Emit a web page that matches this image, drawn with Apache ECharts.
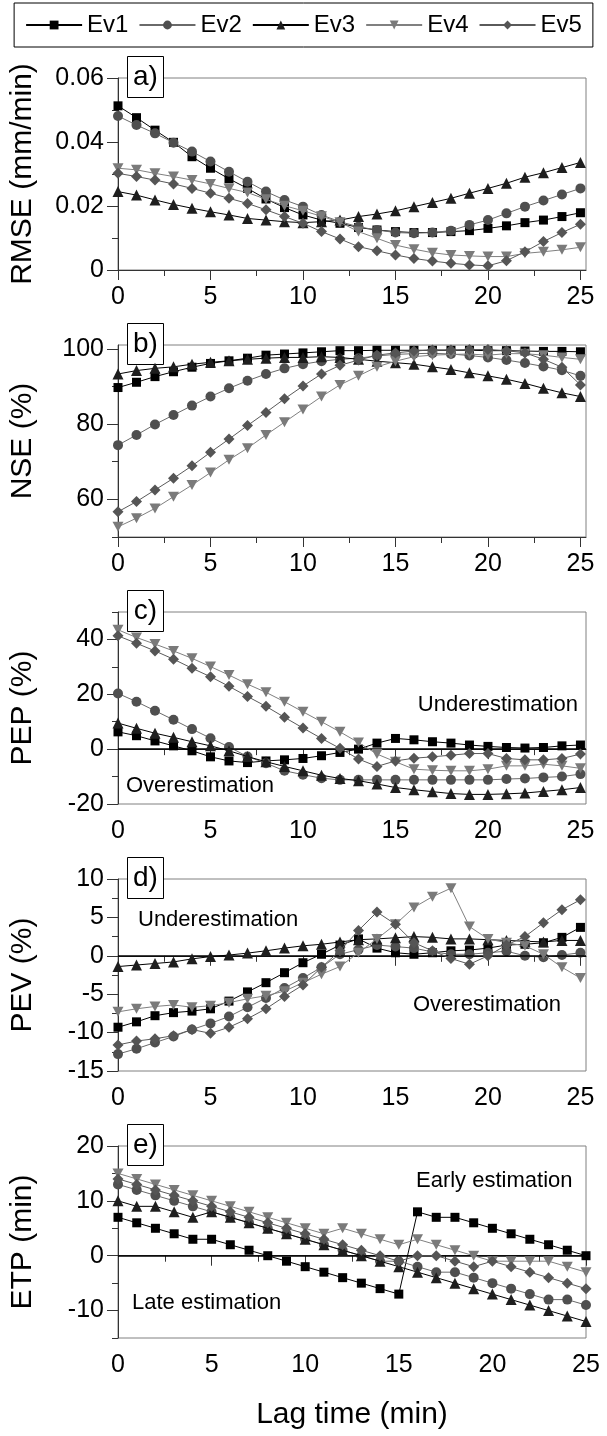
<!DOCTYPE html>
<html>
<head>
<meta charset="utf-8">
<script src="https://cdn.jsdelivr.net/npm/echarts@6/dist/echarts.min.js"></script>
<style>
html, body { margin: 0; padding: 0; background: #fff; }
#chart { width: 607px; height: 1436px; }
</style>
</head>
<body>
<div id="chart"></div>
<script>
// lag times (min), shared by every panel
var lags = [0, 1, 2, 3, 4, 5, 6, 7, 8, 9, 10, 11, 12, 13, 14, 15, 16, 17, 18, 19, 20, 21, 22, 23, 24, 25];
var names = ['Ev1', 'Ev2', 'Ev3', 'Ev4', 'Ev5'];

// a) RMSE (mm/min)
var rmse_ev1 = [0.0513, 0.0476, 0.0437, 0.0399, 0.0354, 0.0318, 0.0285, 0.0255, 0.0222, 0.0195, 0.0172, 0.0156, 0.0146, 0.0133, 0.0125, 0.012, 0.0117, 0.0117, 0.012, 0.0123, 0.013, 0.0138, 0.0148, 0.0156, 0.0167, 0.0179];
var rmse_ev2 = [0.0481, 0.0453, 0.0427, 0.0398, 0.037, 0.0339, 0.0307, 0.0276, 0.0245, 0.0219, 0.0198, 0.0172, 0.0151, 0.0135, 0.0125, 0.0117, 0.0115, 0.0117, 0.0123, 0.0141, 0.0156, 0.0177, 0.0198, 0.0217, 0.0236, 0.0255];
var rmse_ev3 = [0.0245, 0.0234, 0.0219, 0.0205, 0.0193, 0.0182, 0.0172, 0.0161, 0.0156, 0.0151, 0.0148, 0.0151, 0.0156, 0.0167, 0.0175, 0.0185, 0.0198, 0.0211, 0.0224, 0.024, 0.0255, 0.0271, 0.029, 0.0304, 0.032, 0.0336];
var rmse_ev4 = [0.0318, 0.0313, 0.0302, 0.0292, 0.0281, 0.0269, 0.0255, 0.0242, 0.0221, 0.0201, 0.0185, 0.0168, 0.0149, 0.012, 0.0099, 0.0078, 0.0065, 0.0054, 0.0047, 0.0044, 0.0042, 0.0042, 0.0052, 0.0057, 0.0063, 0.0071];
var rmse_ev5 = [0.0302, 0.0292, 0.0281, 0.0269, 0.0255, 0.024, 0.0224, 0.0208, 0.0188, 0.0167, 0.0146, 0.012, 0.0097, 0.0073, 0.006, 0.0047, 0.0036, 0.0028, 0.0021, 0.0016, 0.0013, 0.0029, 0.0057, 0.0089, 0.0117, 0.0143];

// b) NSE (%)
var nse_ev1 = [89.7, 91.1, 92.6, 93.9, 95.1, 96.1, 96.8, 97.5, 98.3, 98.6, 98.9, 99.2, 99.5, 99.5, 99.6, 99.6, 99.6, 99.6, 99.6, 99.6, 99.5, 99.5, 99.4, 99.3, 99.3, 99.2];
var nse_ev2 = [74.4, 77.1, 79.9, 82.4, 84.9, 87.3, 89.5, 91.5, 93.3, 94.8, 95.9, 96.7, 97.2, 97.5, 98.1, 98.5, 98.7, 98.8, 98.6, 98.2, 97.7, 97.0, 96.2, 95.3, 94.3, 92.8];
var nse_ev3 = [93.3, 94.2, 94.8, 95.2, 95.9, 96.4, 96.8, 97.2, 97.5, 97.7, 97.7, 97.9, 97.7, 97.2, 96.7, 96.3, 95.9, 95.2, 94.5, 93.6, 92.8, 91.9, 90.8, 89.5, 88.3, 87.3];
var nse_ev4 = [52.7, 55.0, 57.6, 60.7, 63.8, 67.1, 70.5, 73.6, 77.1, 80.5, 83.9, 87.3, 90.4, 92.8, 95.2, 96.7, 97.9, 98.3, 98.5, 98.6, 98.3, 98.7, 98.7, 98.3, 97.7, 97.2];
var nse_ev5 = [56.7, 59.4, 62.5, 65.6, 68.9, 72.5, 76.0, 79.6, 83.1, 86.7, 90.1, 93.3, 95.6, 97.0, 98.3, 98.9, 99.4, 99.7, 99.7, 99.8, 99.8, 99.5, 98.9, 97.2, 95.1, 90.4];

// c) PEP (%)
var pep_ev1 = [6.3, 4.9, 3.0, 1.2, -0.6, -2.8, -4.3, -4.9, -4.3, -3.9, -3.4, -2.4, -1.2, 0, 2.2, 3.9, 3.4, 2.7, 2.2, 1.5, 1.0, 0.6, 0.4, 0.6, 1.2, 1.5];
var pep_ev2 = [20.3, 17.3, 14.0, 10.7, 7.3, 4.0, 0.8, -2.7, -5.1, -7.9, -9.3, -10.6, -11.2, -11.2, -11.2, -11.2, -11.2, -11.2, -11.2, -11.2, -11.2, -10.9, -10.7, -10.3, -10.0, -9.1];
var pep_ev3 = [9.5, 7.6, 5.8, 4.3, 2.7, 1.2, -0.6, -2.7, -4.6, -6.3, -7.9, -9.5, -10.7, -11.5, -12.7, -14.0, -14.8, -15.5, -16.2, -16.5, -16.5, -16.3, -16.0, -15.4, -14.8, -14.0];
var pep_ev4 = [43.5, 40.7, 38.3, 35.8, 33.1, 30.1, 27.0, 23.7, 20.7, 17.3, 13.6, 10.0, 6.3, 2.4, -1.8, -4.6, -7.3, -7.7, -7.9, -7.9, -7.3, -6.1, -6.1, -5.5, -6.1, -7.0];
var pep_ev5 = [41.3, 38.6, 35.8, 32.8, 29.5, 26.4, 22.9, 19.2, 15.6, 11.6, 7.7, 3.9, 0.3, -3.6, -6.3, -4.3, -3.3, -2.8, -2.2, -1.6, -1.6, -3.4, -3.9, -3.9, -3.4, -1.8];

// d) PEV (%)
var pev_ev1 = [-9.3, -8.6, -7.8, -7.4, -7.2, -6.9, -5.9, -4.7, -3.5, -2.2, -0.9, 0.2, 1.4, 2.2, 1.0, 0.4, 0.2, 0.4, 0.65, 0.75, 1.0, 1.4, 1.5, 1.7, 2.4, 3.7];
var pev_ev2 = [-12.8, -12.1, -11.3, -10.5, -9.6, -8.8, -7.9, -6.7, -5.5, -4.2, -2.9, -1.5, 0.2, 0.8, 1.4, 1.2, 1.0, 0.5, 0.2, 0.2, 0.4, 0.6, 0.0, -0.2, 0.1, 0.4];
var pev_ev3 = [-1.4, -1.2, -1.0, -0.8, -0.4, -0.1, 0.1, 0.35, 0.65, 1.0, 1.3, 1.5, 1.8, 2.1, 2.2, 2.35, 2.5, 2.4, 2.2, 2.2, 2.1, 2.0, 1.9, 1.8, 2.0, 2.0];
var pev_ev4 = [-7.3, -6.9, -6.6, -6.4, -6.7, -6.5, -6.1, -5.6, -5.2, -4.6, -3.5, -2.4, -1.4, 0.4, 2.2, 4.1, 6.3, 7.7, 8.8, 3.8, 2.2, 1.7, 1.3, 0.2, -1.5, -2.9];
var pev_ev5 = [-11.6, -11.1, -10.8, -10.4, -9.6, -10.1, -9.3, -8.2, -6.9, -5.3, -3.8, -1.5, 0.65, 3.3, 5.7, 4.1, 1.7, 0.65, -0.35, -1.1, 0, 1.4, 2.5, 4.3, 6.0, 7.3];

// e) ETP (min)
var etp_ev1 = [7, 6, 5, 4, 3, 3, 2, 1, 0, -1, -2, -3, -4, -5, -6, -7, 8, 7, 7, 6, 5, 4, 3, 2, 1, 0];
var etp_ev2 = [13, 12, 11, 10, 9, 8, 7, 6, 5, 4, 3, 2, 1, 0, -1, -1, -2, -3, -3, -4, -5, -6, -7, -8, -8, -9];
var etp_ev3 = [10, 9, 9, 8, 7, 8, 7, 6, 5, 4, 3, 2, 1, 0, -1, -2, -3, -4, -5, -6, -7, -8, -9, -10, -11, -12];
var etp_ev4 = [15, 14, 13, 12, 11, 10, 9, 8, 7, 6, 5, 4, 5, 4, 3, 2, 3, 2, 1, 0, -1, -1, -1, -1, -2, -3];
var etp_ev5 = [14, 13, 12, 11, 10, 9, 8, 7, 6, 5, 4, 3, 2, 1, 0, -1, 0, 0, -1, -2, -1, -2, -3, -4, -5, -6];

// tick labels
var xLabels = [0, 5, 10, 15, 20, 25];
var xMinor = [2.5, 7.5, 12.5, 17.5, 22.5];
var rmseLabels = [0, 0.02, 0.04, 0.06];
var rmseMinor = [0.01, 0.03, 0.05];
var nseLabels = [60, 80, 100];
var nseMinor = [50, 70, 90];
var pepLabels = [-20, 0, 20, 40];
var pepMinor = [-10, 10, 30, 50];
var pevLabels = [-15, -10, -5, 0, 5, 10];
var pevMinor = [-12.5, -7.5, -2.5, 2.5, 7.5];
var etpLabels = [-10, 0, 10, 20];
var etpMinor = [-15, -5, 5, 15];

var FONT = '"Liberation Sans", Arial, sans-serif';

var panels = [
    {tag: 'a)', yName: 'RMSE (mm/min)', min: 0, max: 0.06, xmax: 25.3, labels: rmseLabels, minor: rmseMinor,
     data: [rmse_ev1, rmse_ev2, rmse_ev3, rmse_ev4, rmse_ev5], notes: []},
    {tag: 'b)', yName: 'NSE (%)', min: 50, max: 101, xmax: 25.3, labels: nseLabels, minor: nseMinor,
     data: [nse_ev1, nse_ev2, nse_ev3, nse_ev4, nse_ev5], notes: []},
    {tag: 'c)', yName: 'PEP (%)', min: -20, max: 50, xmax: 25.3, labels: pepLabels, minor: pepMinor, zero: true,
     data: [pep_ev1, pep_ev2, pep_ev3, pep_ev4, pep_ev5],
     notes: [{text: 'Underestimation', x: 578, dy: 93, align: 'right'}, {text: 'Overestimation', x: 126, dy: 174, align: 'left'}]},
    {tag: 'd)', yName: 'PEV (%)', min: -15, max: 10, xmax: 25.3, labels: pevLabels, minor: pevMinor, zero: true,
     data: [pev_ev1, pev_ev2, pev_ev3, pev_ev4, pev_ev5],
     notes: [{text: 'Underestimation', x: 138, dy: 41, align: 'left'}, {text: 'Overestimation', x: 413, dy: 126, align: 'left'}]},
    {tag: 'e)', yName: 'ETP (min)', min: -15, max: 20, xmax: 25, labels: etpLabels, minor: etpMinor, zero: true,
     data: [etp_ev1, etp_ev2, etp_ev3, etp_ev4, etp_ev5],
     notes: [{text: 'Early estimation', x: 416, dy: 35, align: 'left'}, {text: 'Late estimation', x: 132, dy: 157, align: 'left'}]}
];

// marker look for each event
var styles = [
    {symbol: 'rect', size: 9, fill: '#000000', line: '#000000'},
    {symbol: 'circle', size: 10, fill: '#4f4f4f', line: '#6a6a6a'},
    {symbol: 'triangle', size: 11, fill: '#1e1e1e', line: '#000000'},
    {symbol: 'path://M0,0L10,0L5,9Z', size: [11, 10], fill: '#7a7a7a', line: '#808080'},
    {symbol: 'diamond', size: 11, fill: '#555555', line: '#5a5a5a'}
];

var tops = [78, 345, 612, 879, 1146];
var plotH = 192;
var axisColor = '#333';

var grids = [], xAxes = [], yAxes = [], series = [], graphics = [];

panels.forEach(function(p, i) {
    grids.push({left: 117, right: 21, top: tops[i], height: plotH, show: true,
                borderColor: '#808080', borderWidth: 1, backgroundColor: 'transparent'});

    var last = (i === panels.length - 1);
    xAxes.push({
        gridIndex: i, type: 'value', position: 'bottom', min: 0, max: p.xmax,
        name: last ? 'Lag time (min)' : '', nameLocation: 'middle', nameGap: 62,
        nameTextStyle: {fontSize: 30, color: '#000', fontFamily: FONT},
        axisLine: {show: true, lineStyle: {color: axisColor, width: 1}},
        axisTick: {show: true, customValues: xLabels, length: 10, lineStyle: {color: axisColor}},
        axisLabel: {customValues: xLabels, fontSize: 25, color: '#000', margin: 15, fontFamily: FONT},
        splitLine: {show: false}
    });
    xAxes.push({
        gridIndex: i, type: 'value', position: 'bottom', min: 0, max: p.xmax,
        axisLine: {show: false},
        axisTick: {show: true, customValues: xMinor, length: 6, lineStyle: {color: axisColor}},
        axisLabel: {show: false}, splitLine: {show: false}
    });

    yAxes.push({
        gridIndex: i, type: 'value', position: 'left', min: p.min, max: p.max,
        name: p.yName, nameLocation: 'middle', nameGap: 80, nameRotate: 90,
        nameTextStyle: {fontSize: 30, color: '#000', fontFamily: FONT},
        axisLine: {show: true, lineStyle: {color: axisColor, width: 1}},
        axisTick: {show: true, customValues: p.labels, length: 11, lineStyle: {color: axisColor}},
        axisLabel: {customValues: p.labels, fontSize: 25, color: '#000', margin: 14, fontFamily: FONT},
        splitLine: {show: false}
    });
    yAxes.push({
        gridIndex: i, type: 'value', position: 'left', min: p.min, max: p.max,
        axisLine: {show: false},
        axisTick: {show: true, customValues: p.minor, length: 6, lineStyle: {color: axisColor}},
        axisLabel: {show: false}, splitLine: {show: false}
    });

    names.forEach(function(n, j) {
        var st = styles[j];
        var s = {
            name: n, type: 'line', xAxisIndex: 2 * i, yAxisIndex: 2 * i,
            data: lags.map(function(x, k) { return [x, p.data[j][k]]; }),
            symbol: st.symbol, symbolSize: st.size, showSymbol: true,
            itemStyle: {color: st.fill, borderWidth: 0},
            lineStyle: {color: st.line, width: 1},
            z: 3 + j
        };
        if (p.zero && j === 0) {
            s.markLine = {
                silent: true, symbol: ['none', 'none'], label: {show: false},
                lineStyle: {color: '#000', width: 1.5, type: 'solid'},
                data: [{yAxis: 0}]
            };
        }
        series.push(s);
    });

    // panel letter box sitting on the top frame
    graphics.push({
        type: 'group', left: 127, top: tops[i] - 22, z: 100,
        children: [
            {type: 'rect', shape: {x: 0, y: 0, width: 36, height: 41},
             style: {fill: '#fff', stroke: '#000', lineWidth: 1}},
            {type: 'text', x: 18, y: 21,
             style: {text: p.tag, font: '28px ' + FONT, fill: '#000', align: 'center', verticalAlign: 'middle'}}
        ]
    });

    p.notes.forEach(function(nt) {
        graphics.push({
            type: 'text', x: nt.x, y: tops[i] + nt.dy, z: 100,
            style: {text: nt.text, font: '22px ' + FONT, fill: '#000', align: nt.align, verticalAlign: 'middle'}
        });
    });
});

var chart = echarts.init(document.getElementById('chart'));
chart.setOption({
    animation: false,
    backgroundColor: '#fff',
    textStyle: {fontFamily: FONT, color: '#000'},
    legend: {
        data: names, left: 'center', top: 3,
        itemWidth: 56, itemHeight: 11, itemGap: 10,
        padding: [10, 11], borderColor: '#000', borderWidth: 1,
        textStyle: {fontSize: 24, color: '#000', fontFamily: FONT}
    },
    grid: grids,
    xAxis: xAxes,
    yAxis: yAxes,
    series: series,
    graphic: graphics
});
</script>
</body>
</html>
